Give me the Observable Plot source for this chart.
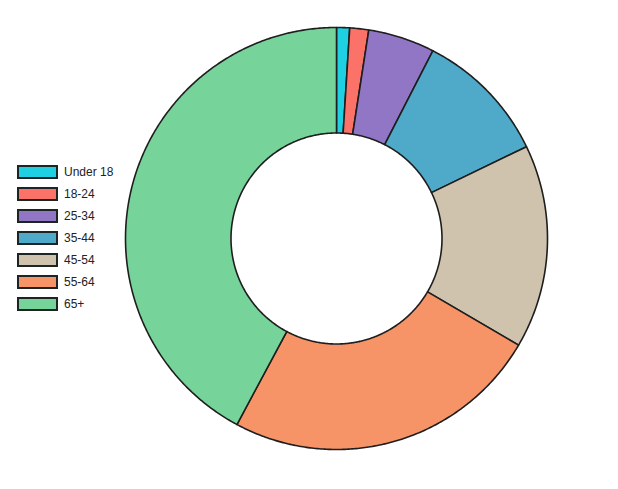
<!DOCTYPE html>
<html>
<head>
<meta charset="utf-8">
<script src="https://cdn.jsdelivr.net/npm/d3@7"></script>
<script src="https://cdn.jsdelivr.net/npm/@observablehq/plot@0.6"></script>
<style>
  html, body { margin: 0; padding: 0; background: #fff; }
  #wrap { position: relative; width: 618px; height: 489px; }
  #legend { position: absolute; left: 17px; top: 161px; font-family: "Liberation Sans", Arial, Helvetica, sans-serif; font-size: 12px; color: #222; }
  .item { display: flex; align-items: center; height: 22px; }
  .sw { width: 37px; height: 10px; border: 2px solid #1c2424; margin-right: 6px; }
</style>
</head>
<body>
<div id="wrap"></div>
<script>
const categories = ["Under 18", "18-24", "25-34", "35-44", "45-54", "55-64", "65+"];
const values = [1.0, 1.45, 5.1, 10.3, 15.6, 24.4, 42.2];
const colors = ["#1fd0e2", "#fa7268", "#9176c6", "#4fa9c9", "#cfc3ae", "#f79467", "#76d49b"];

const innerRatio = 0.5;
const total = d3.sum(values);
let acc = 0;
const features = categories.map((c, i) => {
  const a0 = acc / total * 2 * Math.PI;
  acc += values[i];
  const a1 = acc / total * 2 * Math.PI;
  const n = Math.max(2, Math.ceil((a1 - a0) / (Math.PI / 360)));
  const ring = [];
  for (let k = 0; k <= n; k++) {
    const a = a0 + (a1 - a0) * k / n;
    ring.push([Math.sin(a), Math.cos(a)]);
  }
  for (let k = n; k >= 0; k--) {
    const a = a0 + (a1 - a0) * k / n;
    ring.push([innerRatio * Math.sin(a), innerRatio * Math.cos(a)]);
  }
  ring.push(ring[0]);
  return {type: "Feature", properties: {label: c}, geometry: {type: "Polygon", coordinates: [ring]}};
});

const domain = {type: "Polygon", coordinates: [[[-1, -1], [1, -1], [1, 1], [-1, 1], [-1, -1]]]};

const chart = Plot.plot({
  width: 618,
  height: 489,
  marginLeft: 123,
  marginRight: 69,
  marginTop: 25,
  marginBottom: 38,
  projection: {type: "reflect-y", domain, inset: 2},
  color: {domain: categories, range: colors},
  marks: [
    Plot.geo(features, {fill: d => d.properties.label, stroke: "#1e1e1e", strokeWidth: 1.6})
  ]
});

const wrap = document.getElementById("wrap");
wrap.appendChild(chart);
const legend = document.createElement("div");
legend.id = "legend";
categories.forEach((c, i) => {
  const item = document.createElement("div");
  item.className = "item";
  const sw = document.createElement("div");
  sw.className = "sw";
  sw.style.background = colors[i];
  const t = document.createElement("span");
  t.textContent = c;
  item.appendChild(sw);
  item.appendChild(t);
  legend.appendChild(item);
});
wrap.appendChild(legend);
</script>
</body>
</html>
